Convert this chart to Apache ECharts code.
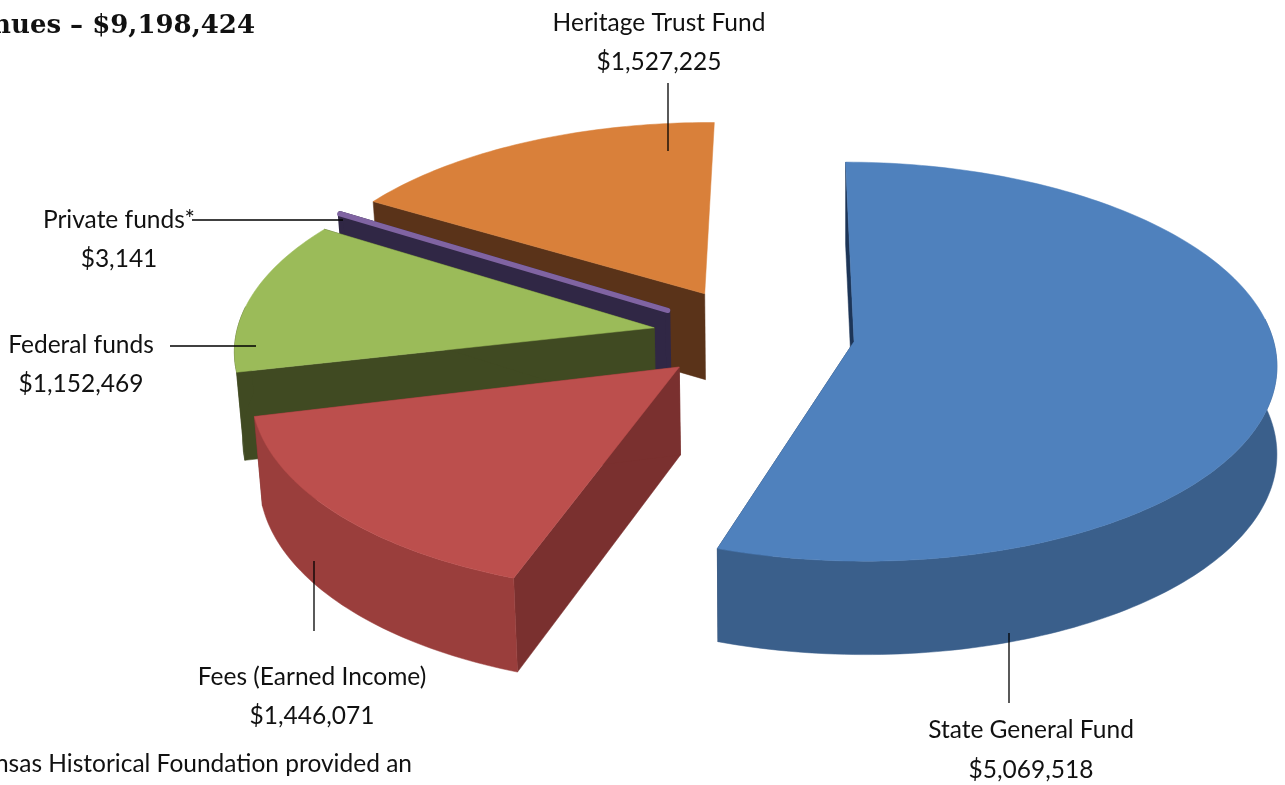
<!DOCTYPE html>
<html><head><meta charset="utf-8">
<style>html,body{margin:0;padding:0;background:#fff;overflow:hidden}#c{width:1285px;height:785px}</style>
<script src="https://cdn.jsdelivr.net/npm/echarts@6/dist/echarts.min.js"></script>
</head><body><div id="c"></div>
<script>
const categories = ['State General Fund','Fees (Earned Income)','Federal funds','Private funds*','Heritage Trust Fund'];
const values = [5069518,1446071,1152469,3141,1527225];
const valueLabels = ['$5,069,518','$1,446,071','$1,152,469','$3,141','$1,527,225'];
const titleText = 'Revenues \u2013 $9,198,424';
const noteText = 'Kansas Historical Foundation provided an';

const palette = [
  {top:'#4F81BD',side:'#3A5F8B',inner:'#1D3557'},
  {top:'#BC4F4D',side:'#9A3E3C',inner:'#7A302F'},
  {top:'#9BBB59',side:'#404A22',inner:'#404A22'},
  {top:'#8064A2',side:'#302745',inner:'#302745'},
  {top:'#D9803A',side:'#5A3319',inner:'#5A3319'}
];
const paintOrder = [4,3,2,1,0];
const view = {cx:754,cy:334,a:418,b:196,k:0.1,depth:87,shrink:0.016,explode:0.2415};
const twistDeg = [0.1,1.2,2.1,2,0.8];
const showEndFace = [true,true,true,true,false];
const labelPos = [
  {x:1031,y1:730,y2:770,line:[1009,633,1009,703]},
  {x:312,y1:677,y2:716,line:[314,561,314,631]},
  {x:81,y1:345,y2:384,line:[170,346,256,346]},
  {x:119,y1:220,y2:259,line:[192,220,343,220]},
  {x:659,y1:23,y2:62,line:[668,83,668,151]}
];

const total = values.reduce((s,v)=>s+v,0);
const cum = [];
values.reduce((s,v,i)=>{cum[i]=s;return s+v;},0);

function project(u,v,h){
  const w = 1+view.k*v, s = 1-view.shrink*h;
  return [view.cx+view.a*u/w*(u<0?s:1), view.cy-view.b*v/w*s+view.depth*h/w];
}
function renderItem(params,api){
  const i = api.value(0);
  const twist = twistDeg[i]*Math.PI/180;
  const start = api.value(1)/total*Math.PI*2+twist, sweep = api.value(2)/total*Math.PI*2;
  const mid = start-twist+sweep/2;
  const u0 = view.explode*Math.sin(mid), v0 = view.explode*Math.cos(mid);
  const n = Math.max(2,Math.ceil(sweep/0.02));
  const rim = [], front = [];
  for(let j=0;j<=n;j++){
    const t=start+sweep*j/n, p=[u0+Math.sin(t),v0+Math.cos(t)];
    rim.push(p);
    if(Math.cos(t)<0.12) front.push(p);
  }
  const P = h=>p=>project(p[0],p[1],h);
  const c = palette[i];
  const poly = (pts,fill,stroke,lw)=>({type:'polygon',shape:{points:pts},style:{fill,stroke:stroke||fill,lineWidth:lw||0.5,lineJoin:'round'}});
  const apex=[u0,v0];
  const face=(e)=>[P(0)(apex),P(0)(e),P(1)(e),P(1)(apex)];
  const thin = sweep<0.01;
  const kids = [poly(face(rim[0]),c.inner)];
  if(showEndFace[i]) kids.push(poly(face(rim[n]),c.inner,thin?c.inner:null,thin?5:null));
  if(front.length>1) kids.push(poly(front.map(P(0)).concat(front.slice().reverse().map(P(1))),c.side));
  kids.push(poly([P(0)(apex)].concat(rim.map(P(0))),c.top,c.top,thin?5:0.5));
  return {type:'group',children:kids};
}

const font = 'Lato, "Open Sans", sans-serif';
const graphics = [];
categories.forEach((name,i)=>{
  const p = labelPos[i];
  graphics.push({type:'text',x:p.x,y:p.y1,z:10,style:{text:name,fill:'#111',font:'24.5px '+font,textAlign:'center',textVerticalAlign:'middle'}});
  graphics.push({type:'text',x:p.x,y:p.y2,z:10,style:{text:valueLabels[i],fill:'#111',font:'24.5px '+font,textAlign:'center',textVerticalAlign:'middle'}});
  graphics.push({type:'line',z:10,shape:{x1:p.line[0],y1:p.line[1],x2:p.line[2],y2:p.line[3]},style:{stroke:'#000',lineWidth:1.3}});
});
graphics.push({type:'text',x:255,y:26,z:10,style:{text:titleText,fill:'#111',font:'bold 26px "DejaVu Serif", serif',textAlign:'right',textVerticalAlign:'middle'}});
graphics.push({type:'text',x:412,y:764,z:10,style:{text:noteText,fill:'#111',font:'24.5px '+font,textAlign:'right',textVerticalAlign:'middle'}});

const chart = echarts.init(document.getElementById('c'),null,{renderer:'canvas'});
chart.setOption({
  animation:false,
  backgroundColor:'#fff',
  graphic:{elements:graphics},
  series:[{type:'custom',coordinateSystem:'none',renderItem,
    encode:{value:2},
    data:paintOrder.map(i=>({name:categories[i],value:[i,cum[i],values[i]]}))}]
});
</script></body></html>
